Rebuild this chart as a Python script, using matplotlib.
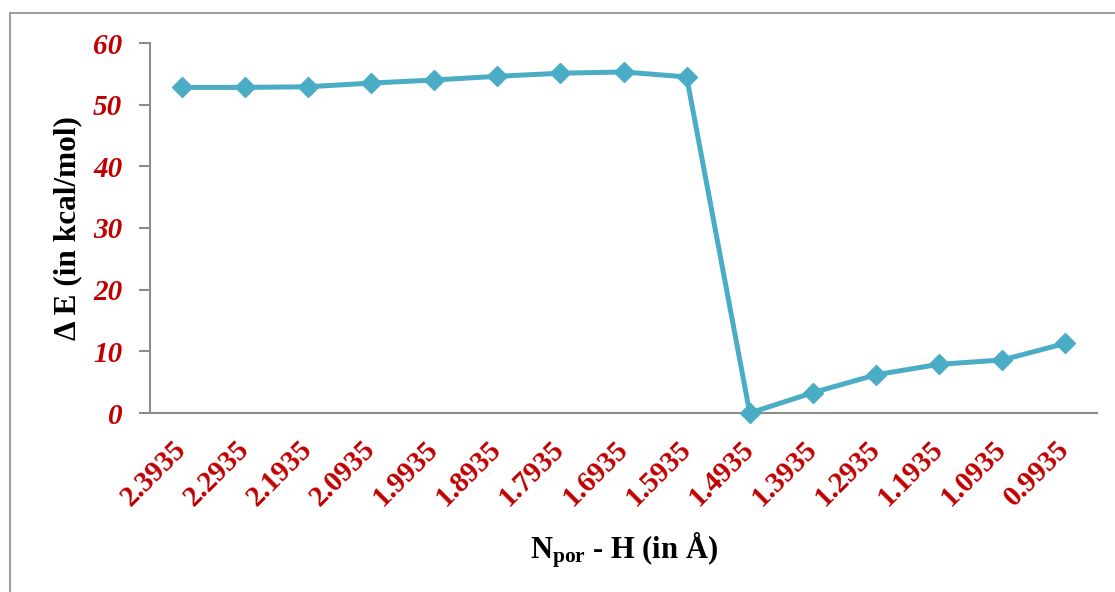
import numpy as np
import matplotlib.pyplot as plt
from matplotlib.patches import Rectangle

# Datos
distances = ['2.3935', '2.2935', '2.1935', '2.0935', '1.9935', '1.8935', '1.7935', '1.6935',
             '1.5935', '1.4935', '1.3935', '1.2935', '1.1935', '1.0935', '0.9935']
delta_e = [52.8, 52.8, 52.9, 53.5, 54.0, 54.6, 55.1, 55.3, 54.5, 0.0, 3.3, 6.2, 7.9, 8.6, 11.3]

plt.rcParams['font.family'] = 'Liberation Serif'
plt.rcParams['mathtext.fontset'] = 'custom'
plt.rcParams['mathtext.rm'] = 'Liberation Serif'
plt.rcParams['mathtext.bf'] = 'Liberation Serif:bold'
plt.rcParams['mathtext.it'] = 'Liberation Serif:italic:bold'

red = '#C00000'
gray = '#8C8C8C'

fig = plt.figure(figsize=(11.15, 5.92), dpi=100)
ax = fig.add_axes([150 / 1115, 1 - 413 / 592, (1097 - 150) / 1115, (413 - 43) / 592])

x = np.arange(len(distances))
ax.plot(x, delta_e, color='#4BACC6', linewidth=3.6, marker='D', markersize=10.5, clip_on=False, zorder=3)

ax.set_xlim(-0.5, len(distances) - 0.5)
ax.set_ylim(0, 60)
ax.set_yticks(range(0, 61, 10))
ax.set_xticks(x)
ax.set_xticklabels(distances, rotation=45, ha='right', va='center', rotation_mode='anchor')

for s in ['top', 'right']:
    ax.spines[s].set_visible(False)
for s in ['left', 'bottom']:
    ax.spines[s].set_color(gray)
    ax.spines[s].set_linewidth(1.5)

ax.tick_params(axis='y', length=8, width=1.5, color=gray, pad=12)
ax.tick_params(axis='x', length=0, pad=23)
for lbl in ax.get_yticklabels():
    lbl.set_color(red)
    lbl.set_fontsize(21)
    lbl.set_fontweight('bold')
    lbl.set_fontstyle('italic')
for lbl in ax.get_xticklabels():
    lbl.set_color(red)
    lbl.set_fontsize(21)
    lbl.set_fontweight('bold')

ax.set_ylabel('Δ E (in kcal/mol)', fontsize=22.5, fontweight='bold', labelpad=8)
fig.text(0.5 * (150 + 1097) / 1115, 1 - 550 / 592, r'N$_{\mathbf{por}}$ - H (in Å)',
         fontsize=22, fontweight='bold', ha='center', va='center')

# marco exterior
fig.add_artist(Rectangle((10 / 1115, -0.5), 2, 0.5 + 1 - 13 / 592, transform=fig.transFigure,
                         fill=False, edgecolor='#A0A0A0', linewidth=1.5))

plt.savefig('out.png', dpi=100)
